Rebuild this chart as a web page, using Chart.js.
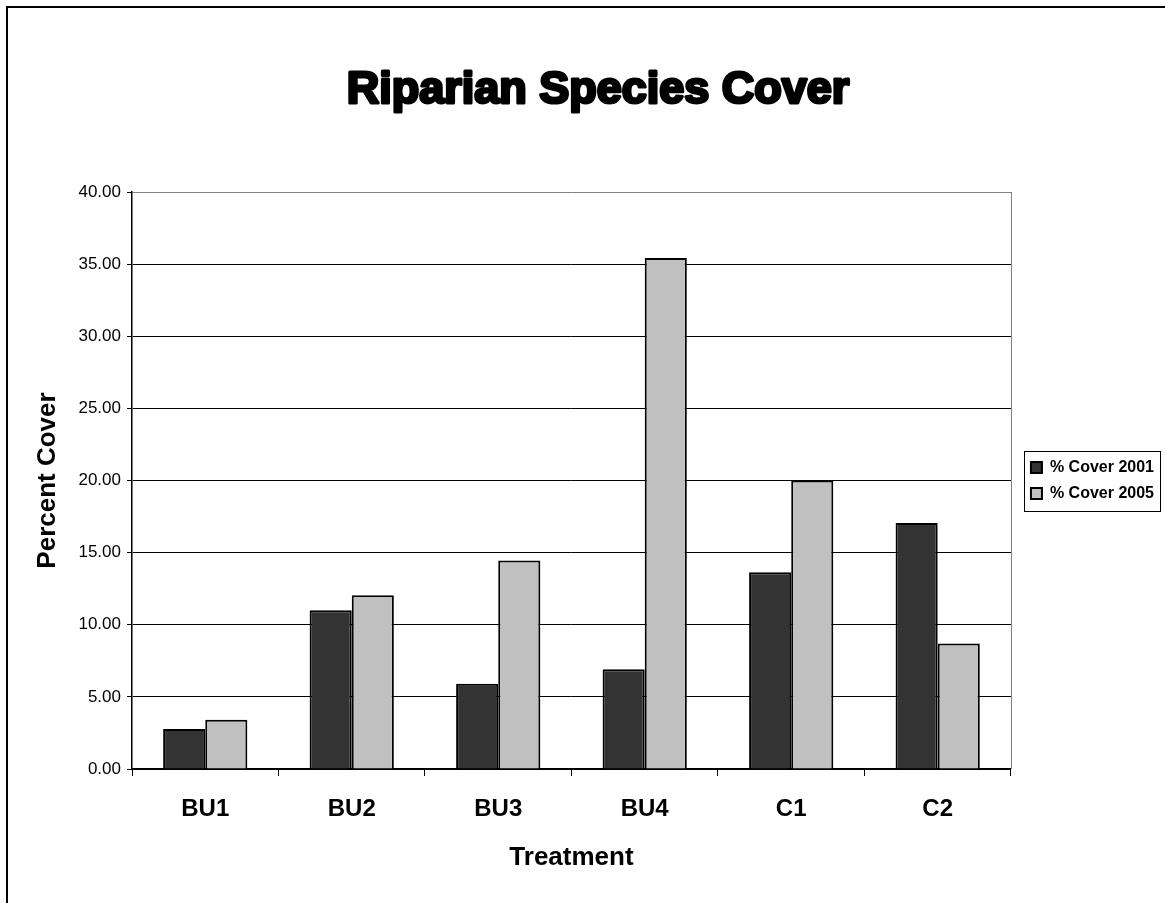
<!DOCTYPE html>
<html>
<head>
<meta charset="utf-8">
<title>Riparian Species Cover</title>
<script src="https://cdn.jsdelivr.net/npm/chart.js@4/dist/chart.umd.min.js"></script>
<style>
  html, body { margin: 0; padding: 0; background: #ffffff; }
  #wrap { width: 1165px; height: 903px; }
</style>
</head>
<body>
<div id="wrap"><canvas id="chart" width="1165" height="903"></canvas></div>
<script>
// Treatments along the x axis
const treatments = ['BU1', 'BU2', 'BU3', 'BU4', 'C1', 'C2'];
// Percent cover of riparian species, per survey year
const cover2001 = [2.77, 11.00, 5.91, 6.92, 13.64, 17.06];
const cover2005 = [3.41, 12.05, 14.45, 35.43, 20.00, 8.70];
// Value axis ticks
const percentTicks = [0, 5, 10, 15, 20, 25, 30, 35, 40];

const chartTitle = 'Riparian Species Cover';
const FAMILY = "'Liberation Sans', Arial, Helvetica, sans-serif";

// Heavy centred title, outer frame, plot-area edge and legend frame
const decorations = {
  id: 'decorations',
  afterLayout(chart) {
    const lg = chart.legend;
    if (lg) { lg.left += 10; lg.right += 10; }
  },
  afterDraw(chart) {
    const ctx = chart.ctx;
    const area = chart.chartArea;
    ctx.save();

    // frame around the figure
    ctx.strokeStyle = '#000';
    ctx.lineWidth = 2;
    ctx.beginPath();
    ctx.moveTo(7, chart.height);
    ctx.lineTo(7, 7);
    ctx.lineTo(chart.width, 7);
    ctx.stroke();

    // right edge of the plot area
    ctx.strokeStyle = '#808080';
    ctx.lineWidth = 1;
    ctx.beginPath();
    ctx.moveTo(Math.round(area.right) + 0.5, area.top);
    ctx.lineTo(Math.round(area.right) + 0.5, area.bottom);
    ctx.stroke();

    // frame around the legend
    const lg = chart.legend;
    if (lg && lg.legendHitBoxes && lg.legendHitBoxes.length) {
      const hb = lg.legendHitBoxes;
      let l = Infinity, r = -Infinity, t = Infinity, b = -Infinity;
      hb.forEach(h => {
        l = Math.min(l, h.left); r = Math.max(r, h.left + h.width);
        t = Math.min(t, h.top); b = Math.max(b, h.top + h.height);
      });
      ctx.strokeStyle = '#000';
      ctx.lineWidth = 1;
      ctx.strokeRect(Math.round(l - 7) + 0.5, Math.round(t - 9) + 0.5,
                     Math.round(r - l + 13), Math.round(b - t + 18));
    }

    // title
    ctx.font = 'bold 45px ' + FAMILY;
    ctx.textAlign = 'center';
    ctx.textBaseline = 'alphabetic';
    ctx.fillStyle = '#000';
    ctx.strokeStyle = '#000';
    ctx.lineWidth = 3;
    ctx.lineJoin = 'round';
    ctx.strokeText(chartTitle, 598, 103);
    ctx.fillText(chartTitle, 598, 103);
    ctx.restore();
  }
};

new Chart(document.getElementById('chart'), {
  type: 'bar',
  data: {
    labels: treatments,
    datasets: [
      {
        label: '% Cover 2001',
        data: cover2001,
        backgroundColor: '#333333',
        borderColor: '#000000',
        borderWidth: 2
      },
      {
        label: '% Cover 2005',
        data: cover2005,
        backgroundColor: '#C0C0C0',
        borderColor: '#000000',
        borderWidth: 2
      }
    ]
  },
  options: {
    responsive: false,
    animation: false,
    devicePixelRatio: 1,
    categoryPercentage: 0.575,
    barPercentage: 1.0,
    layout: { padding: { top: 192, right: 11, bottom: 0, left: 20 } },
    plugins: {
      title: { display: false },
      tooltip: { enabled: false },
      legend: {
        position: 'right',
        fullSize: false,
        labels: {
          boxWidth: 11,
          boxHeight: 11,
          padding: 10,
          color: '#000',
          font: { family: FAMILY, size: 16, weight: 'bold' }
        }
      }
    },
    scales: {
      x: {
        offset: true,
        grid: {
          offset: true,
          drawOnChartArea: false,
          drawTicks: true,
          tickLength: 7,
          color: '#000',
          lineWidth: 1
        },
        border: { color: '#000', width: 2 },
        ticks: {
          color: '#000',
          padding: 19,
          maxRotation: 0,
          font: { family: FAMILY, size: 24, weight: 'bold' }
        },
        title: {
          display: true,
          text: 'Treatment',
          color: '#000',
          font: { family: FAMILY, size: 26, weight: 'bold' },
          padding: { top: 0, bottom: 30 }
        },
        afterFit(scale) { scale.height = 134; }
      },
      y: {
        min: 0,
        max: 40,
        afterBuildTicks(scale) {
          scale.ticks = percentTicks.map(v => ({ value: v }));
        },
        ticks: {
          color: '#000',
          padding: 6,
          font: { family: FAMILY, size: 17 },
          callback: v => Number(v).toFixed(2)
        },
        grid: {
          color: ctx => (ctx.tick && ctx.tick.value === 40 ? '#808080' : '#000'),
          tickColor: '#000',
          lineWidth: 1,
          tickLength: 5
        },
        border: { color: '#000', width: 1.5 },
        title: {
          display: true,
          text: 'Percent Cover',
          color: '#000',
          font: { family: FAMILY, size: 26, weight: 'bold' },
          padding: { top: 12, bottom: 0 }
        },
        afterFit(scale) { scale.width = 112; }
      }
    }
  },
  plugins: [decorations]
});
</script>
</body>
</html>
